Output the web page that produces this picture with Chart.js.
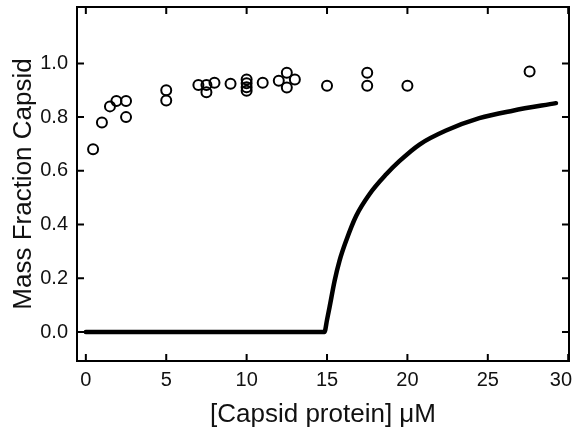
<!DOCTYPE html>
<html>
<head>
<meta charset="utf-8">
<script src="https://cdn.jsdelivr.net/npm/chart.js@4"></script>
<style>
  html, body { margin: 0; padding: 0; background: #fff; }
  #wrap { width: 576px; height: 433px; }
</style>
</head>
<body>
<div id="wrap"><canvas id="c" width="576" height="433"></canvas></div>
<script>
// Measured capsid mass fraction vs. total capsid protein concentration
const measuredConc = [0.45, 1.0, 1.5, 1.9, 2.5, 2.5, 5, 5, 7, 7.5, 7.5, 8, 9, 10, 10, 10, 10, 11, 12, 12.5, 12.5, 13, 15, 17.5, 17.5, 20, 27.6];
const measuredFrac = [0.68, 0.78, 0.84, 0.86, 0.86, 0.80, 0.90, 0.862, 0.92, 0.92, 0.893, 0.928, 0.924, 0.94, 0.926, 0.911, 0.898, 0.928, 0.935, 0.965, 0.91, 0.94, 0.917, 0.965, 0.917, 0.917, 0.97];

// Model curve (equilibrium assembly above the pseudo-critical concentration)
const modelConc = [0, 14.84, 15.0, 15.16, 15.47, 15.78, 16.19, 16.81, 17.64, 18.68, 19.5, 20.75, 22.4, 24.47, 26.55, 29.24];
const modelFrac = [0, 0, 0.045, 0.093, 0.19, 0.266, 0.34, 0.432, 0.513, 0.587, 0.636, 0.698, 0.75, 0.796, 0.824, 0.852];

// Axis ticks
const xTickValues = [0, 5, 10, 15, 20, 25, 30];
const yTickValues = [0, 0.2, 0.4, 0.6, 0.8, 1.0];

const FONT = "'Liberation Sans', Arial, Helvetica, sans-serif";
const INK = '#111';

// Boxed frame with inward tick marks on all four sides
const frameTicks = {
  id: 'frameTicks',
  beforeDraw(chart) {
    // keep the last x label inside the canvas: right-align it to the frame edge
    const sx = chart.scales.x;
    const items = sx.getLabelItems(chart.chartArea);
    const last = items[items.length - 1];
    if (last && last.options && last.options.translation) {
      last.options.textAlign = 'right';
      last.options.translation[0] = sx.right + 3;
    }
  },
  afterDatasetsDraw(chart) {
    const { ctx, chartArea: a, scales } = chart;
    const len = 7;
    ctx.save();
    ctx.strokeStyle = '#000';
    ctx.lineWidth = 2;
    ctx.beginPath();
    xTickValues.forEach(v => {
      const px = scales.x.getPixelForValue(v);
      ctx.moveTo(px, a.bottom); ctx.lineTo(px, a.bottom - len);
      ctx.moveTo(px, a.top); ctx.lineTo(px, a.top + len);
    });
    yTickValues.forEach(v => {
      const py = scales.y.getPixelForValue(v);
      ctx.moveTo(a.left, py); ctx.lineTo(a.left + len, py);
      ctx.moveTo(a.right, py); ctx.lineTo(a.right - len, py);
    });
    ctx.stroke();
    ctx.strokeRect(a.left, a.top, a.right - a.left, a.bottom - a.top);
    ctx.restore();
  }
};

new Chart(document.getElementById('c'), {
  data: {
    datasets: [
      {
        type: 'line',
        label: 'Model',
        data: modelConc.map((x, i) => ({ x, y: modelFrac[i] })),
        borderColor: '#000',
        borderWidth: 4.5,
        borderCapStyle: 'round',
        borderJoinStyle: 'round',
        cubicInterpolationMode: 'monotone',
        pointRadius: 0,
        fill: false
      },
      {
        type: 'scatter',
        label: 'Measured',
        data: measuredConc.map((x, i) => ({ x, y: measuredFrac[i] })),
        pointStyle: 'circle',
        pointRadius: 5,
        borderWidth: 2,
        borderColor: '#000',
        backgroundColor: 'rgba(255,255,255,0)'
      }
    ]
  },
  options: {
    responsive: false,
    animation: false,
    devicePixelRatio: 1,
    layout: { padding: { left: 0, right: 6, top: 5, bottom: 0 } },
    plugins: { legend: { display: false }, tooltip: { enabled: false } },
    scales: {
      x: {
        type: 'linear',
        position: 'bottom',
        min: -0.55,
        max: 30.05,
        afterBuildTicks: s => { s.ticks = xTickValues.map(v => ({ value: v })); },
        afterFit: s => { s.height = 72; s.paddingLeft = 0; s.paddingRight = 0; },
        grid: { display: false, drawTicks: false },
        border: { display: false },
        ticks: {
          padding: 7,
          color: INK,
          font: { family: FONT, size: 20 },
          maxRotation: 0,
          callback: v => String(v)
        },
        title: {
          display: true,
          text: '[Capsid protein] μM',
          color: INK,
          font: { family: FONT, size: 26 },
          padding: { top: 0, bottom: 3 }
        }
      },
      y: {
        type: 'linear',
        position: 'left',
        min: -0.108,
        max: 1.21,
        afterBuildTicks: s => { s.ticks = yTickValues.map(v => ({ value: v })); },
        afterFit: s => { s.width = 77; s.paddingTop = 0; s.paddingBottom = 0; },
        grid: { display: false, drawTicks: false },
        border: { display: false },
        ticks: {
          padding: 9,
          color: INK,
          font: { family: FONT, size: 20 },
          callback: v => v.toFixed(1)
        },
        title: {
          display: true,
          text: 'Mass Fraction Capsid',
          color: INK,
          font: { family: FONT, size: 26 },
          padding: { top: 8, bottom: 0 }
        }
      }
    }
  },
  plugins: [frameTicks]
});
</script>
</body>
</html>
